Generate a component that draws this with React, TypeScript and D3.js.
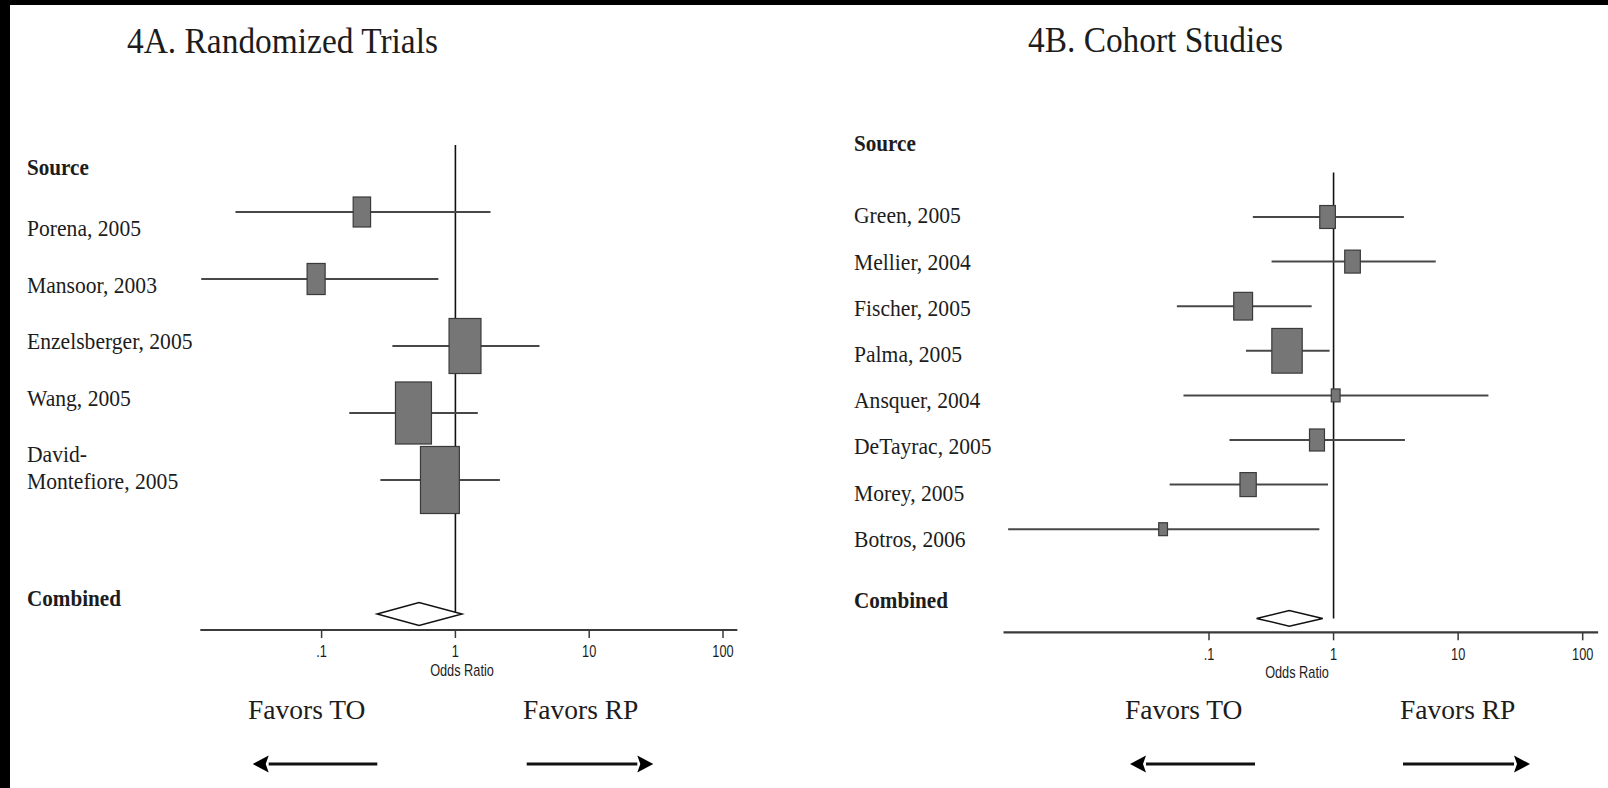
import React from "react";
import * as d3 from "d3";

// 4A. randomized trials
const studiesA = ["Porena, 2005", "Mansoor, 2003", "Enzelsberger, 2005", "Wang, 2005", "David-\nMontefiore, 2005"];
const orA = [0.2, 0.091, 1.18, 0.486, 0.766];
const lowA = [0.0227, 0.0126, 0.338, 0.161, 0.275];
const highA = [1.83, 0.746, 4.25, 1.47, 2.15];
const weightA = [6.8, 7.3, 22.9, 29.1, 34.0];
const combinedA = [0.26, 0.535, 1.12]; // low, estimate, high
const axisExtentA = [0.0124, 128];

// 4B. cohort studies
const studiesB = ["Green, 2005", "Mellier, 2004", "Fischer, 2005", "Palma, 2005", "Ansquer, 2004", "DeTayrac, 2005", "Morey, 2005", "Botros, 2006"];
const orB = [0.895, 1.42, 0.188, 0.423, 1.04, 0.736, 0.206, 0.0428];
const lowB = [0.225, 0.318, 0.0552, 0.198, 0.0624, 0.146, 0.0483, 0.00244];
const highB = [3.67, 6.61, 0.667, 0.929, 17.5, 3.74, 0.902, 0.769];
const weightB = [10.1, 10.1, 14.7, 38.3, 3.2, 9.3, 11.0, 3.2];
const combinedB = [0.241, 0.441, 0.819];
const axisExtentB = [0.00224, 133];

const tickValues = [0.1, 1, 10, 100];
const tickLabels = [".1", "1", "10", "100"];

const serif = "'Liberation Serif', 'Times New Roman', serif";
const sans = "'Liberation Sans', Arial, sans-serif";

const panelA = {
  title: "4A. Randomized Trials",
  studies: studiesA, or: orA, low: lowA, high: highA, weight: weightA,
  combined: combinedA, extent: axisExtentA,
  tickRange: [321.6, 723], rowRange: [212, 279], labelRange: [236, 292.5],
  labelX: 27, sourceY: 175, combinedLabelY: 606, axisY: 630,
  boxK: 11.5, boxAspect: 0.58, diamondH: 11.5,
  titleX: 127, titleY: 53, titleW: 311,
  toX: 248, rpX: 523, arrowL: [252.7, 377.3], arrowR: [526.7, 653.3],
  orX: 462, tickY: 657,
};

const panelB = {
  title: "4B. Cohort Studies",
  studies: studiesB, or: orB, low: lowB, high: highB, weight: weightB,
  combined: combinedB, extent: axisExtentB,
  tickRange: [1209, 1582.7], rowRange: [217, 261.6], labelRange: [223.3, 269.5],
  labelX: 854, sourceY: 151, combinedLabelY: 608, axisY: 632.3,
  boxK: 7.22, boxAspect: 0.68, diamondH: 7.8,
  titleX: 1028, titleY: 52, titleW: 255,
  toX: 1125, rpX: 1400, arrowL: [1130, 1255], arrowR: [1403, 1530],
  orX: 1297, tickY: 660,
};

function Label({ x, y, children, size = 23.5, sx = 0.92, bold = false, font = serif, anchor = "start" }) {
  return (
    <text
      transform={`translate(${x},${y}) scale(${sx},1)`}
      fontFamily={font}
      fontSize={size}
      fontWeight={bold ? "bold" : "normal"}
      textAnchor={anchor}
      fill="#1c1c1c"
    >
      {children}
    </text>
  );
}

function Arrow({ x0, x1, y, dir }) {
  // dir -1: head at x0 (left), 1: head at x1 (right)
  const tip = dir < 0 ? x0 : x1;
  const base = tip - dir * 16;
  return (
    <g>
      <line x1={dir < 0 ? base : x0} x2={dir < 0 ? x1 : base} y1={y} y2={y} stroke="#111" strokeWidth={3} />
      <path d={`M${tip},${y} L${base},${y - 8.5} L${base + dir * 3},${y} L${base},${y + 8.5} Z`} fill="#000" />
    </g>
  );
}

function Panel({ p }) {
  const x = d3.scaleLog().domain([0.1, 100]).range(p.tickRange);
  const y = d3.scaleLinear().domain([0, 1]).range(p.rowRange);
  const ly = d3.scaleLinear().domain([0, 1]).range(p.labelRange);
  const side = (w) => p.boxK * Math.sqrt(w);
  const combRow = p.studies.length + 1;
  const cy = y(combRow);
  const [cl, ce, ch] = p.combined;

  return (
    <g>
      <text x={p.titleX} y={p.titleY} fontFamily={serif} fontSize={36} fill="#1c1c1c"
        textLength={p.titleW} lengthAdjust="spacingAndGlyphs">{p.title}</text>

      <Label x={p.labelX} y={p.sourceY} bold sx={0.9}>Source</Label>
      {p.studies.map((s, i) =>
        s.split("\n").map((line, j) => (
          <Label key={`${i}-${j}`} x={p.labelX} y={ly(i) + j * 27}>{line}</Label>
        ))
      )}
      <Label x={p.labelX} y={p.combinedLabelY} bold sx={0.9}>Combined</Label>

      {/* null line */}
      <line x1={x(1)} x2={x(1)} y1={y(-1)} y2={cy} stroke="#111" strokeWidth={1.6} />

      {/* confidence intervals and weighted boxes */}
      {p.studies.map((s, i) => {
        const h = side(p.weight[i]);
        const w = h * p.boxAspect;
        return (
          <g key={s}>
            <line x1={x(p.low[i])} x2={x(p.high[i])} y1={y(i)} y2={y(i)} stroke="#484848" strokeWidth={2} />
            <rect x={x(p.or[i]) - w / 2} y={y(i) - h / 2} width={w} height={h}
              fill="#767676" stroke="#3a3a3a" strokeWidth={1.2} />
          </g>
        );
      })}

      {/* pooled estimate */}
      <path
        d={`M${x(cl)},${cy} L${x(ce)},${cy - p.diamondH} L${x(ch)},${cy} L${x(ce)},${cy + p.diamondH} Z`}
        fill="#fff" stroke="#111" strokeWidth={1.5}
      />

      {/* axis */}
      <line x1={x(p.extent[0])} x2={x(p.extent[1])} y1={p.axisY} y2={p.axisY} stroke="#3a3a3a" strokeWidth={2.2} />
      {tickValues.map((t, i) => (
        <g key={t}>
          <line x1={x(t)} x2={x(t)} y1={p.axisY} y2={p.axisY + 8} stroke="#3a3a3a" strokeWidth={1.5} />
          <Label x={x(t)} y={p.tickY} font={sans} size={17} sx={0.75} anchor="middle">{tickLabels[i]}</Label>
        </g>
      ))}
      <Label x={p.orX} y={p.axisY + 46} font={sans} size={17} sx={0.75} anchor="middle">Odds Ratio</Label>

      <Label x={p.toX} y={719} size={27.5} sx={1}>Favors TO</Label>
      <Label x={p.rpX} y={719} size={27.5} sx={1}>Favors RP</Label>
      <Arrow x0={p.arrowL[0]} x1={p.arrowL[1]} y={764} dir={-1} />
      <Arrow x0={p.arrowR[0]} x1={p.arrowR[1]} y={764} dir={1} />
    </g>
  );
}

export default function App() {
  const W = 1608;
  const H = 788;
  return (
    <div style={{ position: "absolute", left: 0, top: 0, width: W, height: H }}>
      <svg width={W} height={H} style={{ display: "block" }}>
        <rect width={W} height={H} fill="#000" />
        <rect x={10} y={5} width={W - 10} height={H - 5} fill="#fff" />
        <Panel p={panelA} />
        <Panel p={panelB} />
      </svg>
    </div>
  );
}
